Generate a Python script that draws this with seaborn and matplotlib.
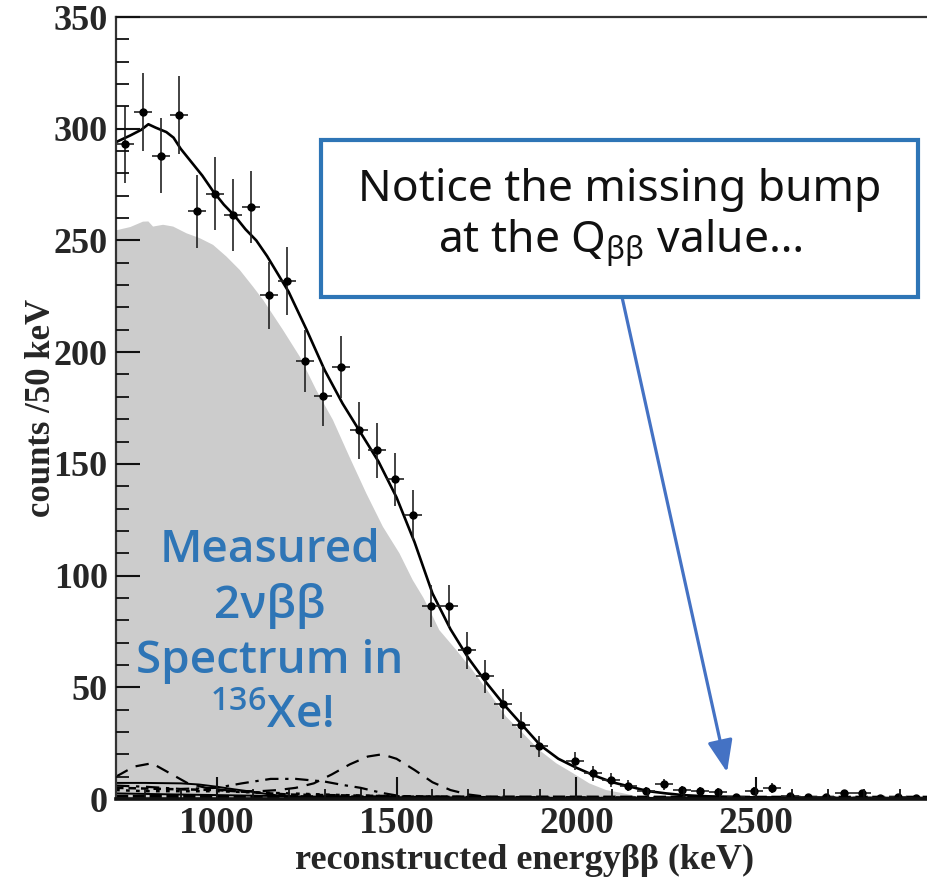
import numpy as np
import pandas as pd
import matplotlib
matplotlib.use("Agg")
import matplotlib.pyplot as plt
import seaborn as sns
from matplotlib.patches import Rectangle
from matplotlib.ticker import MultipleLocator

# ---------------- data ----------------
energy_pts = [745, 795, 845, 895, 945, 995, 1045, 1095, 1145, 1195, 1245, 1295, 1345,
              1395, 1445, 1495, 1545, 1595, 1645, 1695, 1745, 1795, 1845, 1895, 1995,
              2045, 2095, 2145, 2195, 2245, 2295, 2345, 2395, 2445, 2495, 2545, 2595,
              2645, 2695, 2745, 2795, 2845, 2895, 2945]
counts_pts = [293, 307.5, 288, 306, 263, 271, 261.5, 265, 225.5, 232, 196, 180.5, 193.5,
              165, 156, 143, 127, 86.5, 86.5, 66.5, 55, 42.5, 33, 23.5, 17,
              11.5, 8.5, 6, 3.6, 6.6, 4, 3.5, 3, 1, 3.5, 4.8, 1.5,
              0.8, 1, 2.5, 2.5, 0.4, 1, 0.4]

fit_x = [720, 760, 790, 810, 830, 860, 880, 900, 930, 960, 990, 1020, 1050, 1080, 1110,
         1140, 1170, 1200, 1250, 1300, 1350, 1400, 1450, 1500, 1550, 1600, 1650, 1700,
         1750, 1800, 1850, 1900, 1950, 2000, 2050, 2100, 2150, 2200, 2250, 2300, 2350,
         2400, 2500, 2700, 2975]
fit_y = [294, 297, 299.5, 302, 300.5, 298.5, 296, 291, 285, 279, 272, 266, 261, 255, 250,
         243, 235, 227, 210, 192, 177, 164, 151, 135, 115, 92, 76, 63,
         52, 42, 33, 24, 18, 14, 10.5, 7.5, 5.5, 3.5, 2.5, 1.7, 1.3,
         1.0, 0.7, 0.5, 0.4]

bb2n_x = [720, 760, 795, 810, 823, 851, 879, 916, 953, 990, 1027, 1064, 1101, 1129, 1184,
          1231, 1277, 1323, 1369, 1416, 1462, 1508, 1545, 1575, 1601, 1619, 1666, 1711,
          1758, 1805, 1851, 1897, 1944, 1990, 2036, 2083, 2129, 2175, 2211, 2240]
bb2n_y = [254.5, 256, 258.4, 258.5, 256.2, 257, 256.2, 253.2, 251, 248, 242.8, 236.8, 229.3,
          223.4, 210, 198, 183, 169.7, 153.2, 136.8, 121.9, 110, 98, 90, 81.6, 75.6, 66.7,
          57.7, 47.4, 36.8, 29.5, 21.9, 16, 11.6, 7, 4, 2.6, 1, 0.3, 0]

dash_x = [720, 770, 820, 870, 920, 970, 1020, 1070, 1120, 1170, 1220, 1270, 1320, 1370,
          1420, 1460, 1500, 1550, 1600, 1650, 1700, 1750, 1800, 2975]
dash_y = [10, 14.5, 16, 11.5, 7, 5, 4, 3.5, 3.5, 4, 5, 7, 11, 15.5,
          19, 20, 18, 13, 7.5, 4, 2, 1, 0.5, 0.3]

dashdot_x = [720, 800, 900, 1000, 1070, 1150, 1220, 1300, 1350, 1400, 1460, 1510, 1600, 2975]
dashdot_y = [6, 5.5, 4.5, 5, 7, 9, 9, 7.8, 6.3, 5, 2.7, 1.3, 0.5, 0.3]

solid_x = [720, 800, 900, 950, 1000, 1050, 1100, 1150, 1200, 1300, 1500, 2975]
solid_y = [7.2, 7.2, 7, 6.5, 5.5, 4.3, 3.2, 2, 1, 0.5, 0.3, 0.2]

dotted_x = [720, 800, 900, 1000, 1100, 1200, 1300, 1400, 1500, 1700, 2000, 2500, 2975]
dotted_y = [4, 3.5, 3.5, 3.5, 3, 2.5, 2, 1.5, 1.2, 0.8, 0.5, 0.3, 0.2]

low_x = [720, 900, 1100, 1300, 1600, 2000, 2975]
low_y = [2.5, 2, 1.5, 1, 0.7, 0.5, 0.3]

sdash_x = [720, 850, 1000, 1200, 1400, 1700, 2975]
sdash_y = [5, 4.5, 4, 2, 1.5, 0.8, 0.4]

floor_x = [720, 1200, 1800, 2400, 2975]
floor_y = [1.2, 1.0, 0.9, 0.8, 0.8]

xticks = [1000, 1500, 2000, 2500]
yticks = [0, 50, 100, 150, 200, 250, 300, 350]

# ---------------- style ----------------
sns.set_style("ticks")
plt.rcParams["font.family"] = ["Liberation Serif", "DejaVu Serif"]
plt.rcParams["mathtext.fontset"] = "custom"
plt.rcParams["mathtext.rm"] = "Noto Sans"
plt.rcParams["mathtext.it"] = "Noto Sans:italic"
plt.rcParams["mathtext.bf"] = "Noto Sans:bold"

W, H = 927, 881
fig = plt.figure(figsize=(W / 100, H / 100), dpi=100)
pos = [116 / W, 82 / H, (W - 116) / W, (799 - 17) / H]
ax = fig.add_axes(pos, zorder=1)

# grey 2nbb fill
ax.fill_between(bb2n_x, 0, bb2n_y, facecolor="#cccccc", edgecolor="none", lw=0, zorder=0.2)

# background components
comp_style = dict(color="black", zorder=2)
sns.lineplot(x=dash_x, y=dash_y, ax=ax, lw=1.6, linestyle=(0, (6, 4)), **comp_style)
sns.lineplot(x=dashdot_x, y=dashdot_y, ax=ax, lw=1.6, linestyle=(0, (6, 3, 1.5, 3)), **comp_style)
sns.lineplot(x=solid_x, y=solid_y, ax=ax, lw=1.4, linestyle="-", **comp_style)
sns.lineplot(x=dotted_x, y=dotted_y, ax=ax, lw=1.8, linestyle=(0, (1.5, 2.5)), **comp_style)
sns.lineplot(x=low_x, y=low_y, ax=ax, lw=1.4, linestyle="-", **comp_style)
sns.lineplot(x=sdash_x, y=sdash_y, ax=ax, lw=1.8, linestyle=(0, (3, 2)), **comp_style)
sns.lineplot(x=floor_x, y=floor_y, ax=ax, lw=2.2, linestyle=(0, (4, 1.5)), **comp_style)

# total fit
sns.lineplot(x=fit_x, y=fit_y, ax=ax, color="black", lw=1.9, zorder=4)

# data points with error bars
err = np.sqrt(np.array(counts_pts))
ax.errorbar(energy_pts, counts_pts, yerr=err, xerr=25, fmt="o", ms=5,
            color="black", ecolor="#222222", elinewidth=1.2, capsize=0, zorder=5)

ax.set_xlim(720, 2975)
ax.set_ylim(0, 350)
ax.tick_params(which="both", length=0, labelleft=False, labelbottom=False)
for s in ax.spines.values():
    s.set_visible(False)

# overlay axes carrying ticks, spines and labels (drawn above the grey fill)
ov = fig.add_axes(pos, sharex=ax, sharey=ax, zorder=2)
ov.patch.set_visible(False)
ov.set_axisbelow(False)
ov.set_xticks(xticks)
ov.set_yticks(yticks)
ov.xaxis.set_minor_locator(MultipleLocator(100))
ov.yaxis.set_minor_locator(MultipleLocator(10))
ov.tick_params(axis="y", which="major", direction="in", length=17, width=1.5, pad=6,
               labelsize=26, color="#111111")
ov.tick_params(axis="y", which="minor", direction="in", length=9, width=1.3, color="#111111")
ov.tick_params(axis="x", which="major", direction="in", length=16, width=1.5, pad=5,
               labelsize=27, color="#111111")
ov.tick_params(axis="x", which="minor", direction="in", length=7, width=1.3, color="#111111")
for lab in ov.get_xticklabels() + ov.get_yticklabels():
    lab.set_fontweight("bold")
ov.spines["right"].set_visible(False)
ov.spines["left"].set_linewidth(1.6)
ov.spines["left"].set_color("#333333")
ov.spines["top"].set_linewidth(1.6)
ov.spines["top"].set_color("#333333")
ov.spines["bottom"].set_linewidth(2.6)
ov.spines["bottom"].set_color("#111111")
ov.set_xlim(720, 2975)
ov.set_ylim(0, 350)

ov.set_xlabel("reconstructed energy\u03b2\u03b2 (keV)", fontsize=26, fontweight="bold")
ov.set_ylabel("counts /50 keV", fontsize=25, fontweight="bold")
ov.xaxis.set_label_coords(0.504, -0.058)
ov.yaxis.set_label_coords(-0.071, 0.5)

# arrow
ov.annotate("", xy=(2419, 12), xycoords="data",
            xytext=(622 / W, 1 - 297 / H), textcoords="figure fraction",
            arrowprops=dict(arrowstyle="-|>,head_length=1.4,head_width=0.55",
                            mutation_scale=14, color="#4472C4", lw=2.3,
                            shrinkA=0, shrinkB=0), zorder=9)

# annotation box
box = Rectangle((321 / W, 1 - 297 / H), (918 - 321) / W, (297 - 140) / H,
                transform=fig.transFigure, facecolor="white", edgecolor="#2E75B6",
                lw=3.0, zorder=10)
fig.patches.append(box)
fig.text(620 / W, 1 - 190 / H, "Notice the missing bump", ha="center", va="center",
         fontsize=32, family=["Noto Sans", "DejaVu Sans"], color="#111111", zorder=11)
fig.text(620 / W, 1 - 243 / H, r"at the Q$_{\mathregular{\beta\beta}}$ value…", ha="center",
         va="center", fontsize=32, family=["Noto Sans", "DejaVu Sans"], color="#111111",
         zorder=11)

# measured text
blue = "#2E75B6"
tkw = dict(ha="center", va="center", fontsize=33, color=blue, fontweight="semibold",
           family=["Open Sans", "Noto Sans", "DejaVu Sans"], zorder=8)
fig.text(270 / W, 1 - 550 / H, "Measured", **tkw)
fig.text(270 / W, 1 - 606 / H, "2\u03bd\u03b2\u03b2", **tkw)
fig.text(270 / W, 1 - 662 / H, "Spectrum in", **tkw)
fig.text(272 / W, 1 - 717 / H, r"$\mathregular{^{136}}$Xe!", **tkw)

fig.savefig("out.png", dpi=100)
